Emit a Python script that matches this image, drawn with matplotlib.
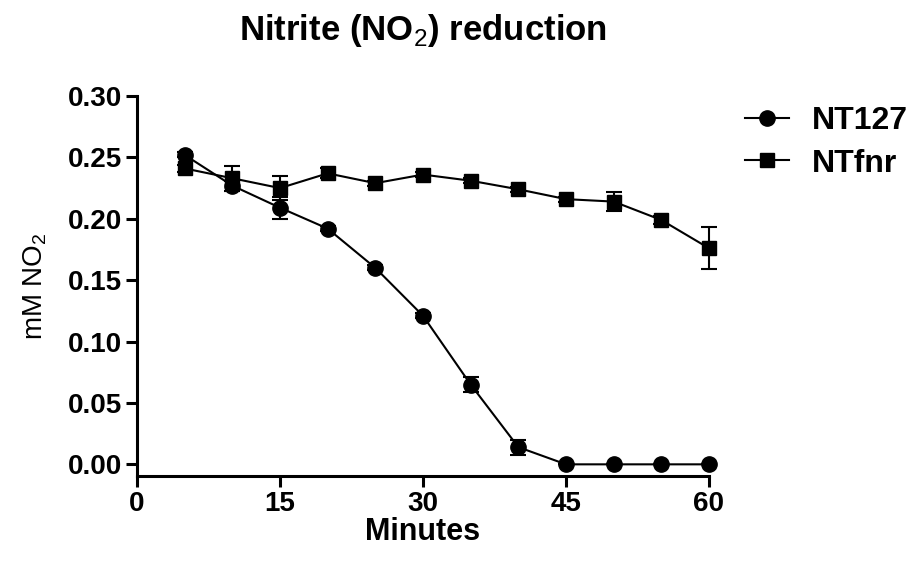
import numpy as np
import matplotlib
matplotlib.use("Agg")
import matplotlib.pyplot as plt

plt.rcParams['font.family'] = ['Liberation Sans', 'DejaVu Sans']
plt.rcParams['mathtext.fontset'] = 'custom'
plt.rcParams['mathtext.rm'] = 'Liberation Sans'
plt.rcParams['mathtext.bf'] = 'Liberation Sans:bold'

# Data
minutes = [5, 10, 15, 20, 25, 30, 35, 40, 45, 50, 55, 60]
nt127 = [0.252, 0.227, 0.209, 0.192, 0.160, 0.121, 0.065, 0.014, 0.0, 0.0, 0.0, 0.0]
nt127_err = [0.002, 0.004, 0.009, 0.002, 0.002, 0.002, 0.006, 0.006, 0.0, 0.0, 0.0, 0.0]
ntfnr = [0.241, 0.233, 0.225, 0.237, 0.229, 0.236, 0.231, 0.224, 0.216, 0.214, 0.199, 0.176]
ntfnr_err = [0.003, 0.010, 0.010, 0.004, 0.002, 0.002, 0.002, 0.002, 0.002, 0.008, 0.003, 0.017]

x_ticks = [0, 15, 30, 45, 60]
y_ticks = [0.00, 0.05, 0.10, 0.15, 0.20, 0.25, 0.30]

fig = plt.figure(figsize=(9.06, 5.62), dpi=100)
ax = fig.add_axes([137 / 906, 1 - 476 / 562, (709 - 137) / 906, (476 - 96) / 562])

ax.errorbar(minutes, nt127, yerr=nt127_err, color='black', marker='o', markersize=11,
            linewidth=1.5, elinewidth=1.5, capsize=6, capthick=1.5, label='NT127', clip_on=False, zorder=3)
ax.errorbar(minutes, ntfnr, yerr=ntfnr_err, color='black', marker='s', markersize=10.5,
            linewidth=1.5, elinewidth=1.5, capsize=6, capthick=1.5, label='NTfnr', clip_on=False, zorder=3)

ax.set_xlim(0, 60)
ax.set_ylim(-0.0095, 0.30)
ax.set_xticks(x_ticks)
ax.set_yticks(y_ticks)
ax.set_yticklabels([f"{v:.2f}" for v in y_ticks])
ax.spines['top'].set_visible(False)
ax.spines['right'].set_visible(False)
for s in ['left', 'bottom']:
    ax.spines[s].set_linewidth(2.2)
ax.tick_params(axis='both', width=2.2, length=8, labelsize=20, pad=3)
for lbl in ax.get_xticklabels() + ax.get_yticklabels():
    lbl.set_fontweight('bold')

ax.set_title('Nitrite (NO$_2$) reduction', fontsize=25, fontweight='bold', pad=40)
ax.set_xlabel('Minutes', fontsize=22, fontweight='bold', labelpad=0)
ax.set_ylabel('mM NO$_2$', fontsize=20, labelpad=13)

handles, labels = ax.get_legend_handles_labels()
handles = [h[0] for h in handles]
leg = fig.legend(handles, labels, loc='upper left', bbox_to_anchor=(716 / 906, 1 - 77 / 562),
                 frameon=False, prop={'size': 23, 'weight': 'bold'}, handlelength=1.4,
                 handletextpad=0.7, labelspacing=0.4)

fig.savefig('out.png', dpi=100)
